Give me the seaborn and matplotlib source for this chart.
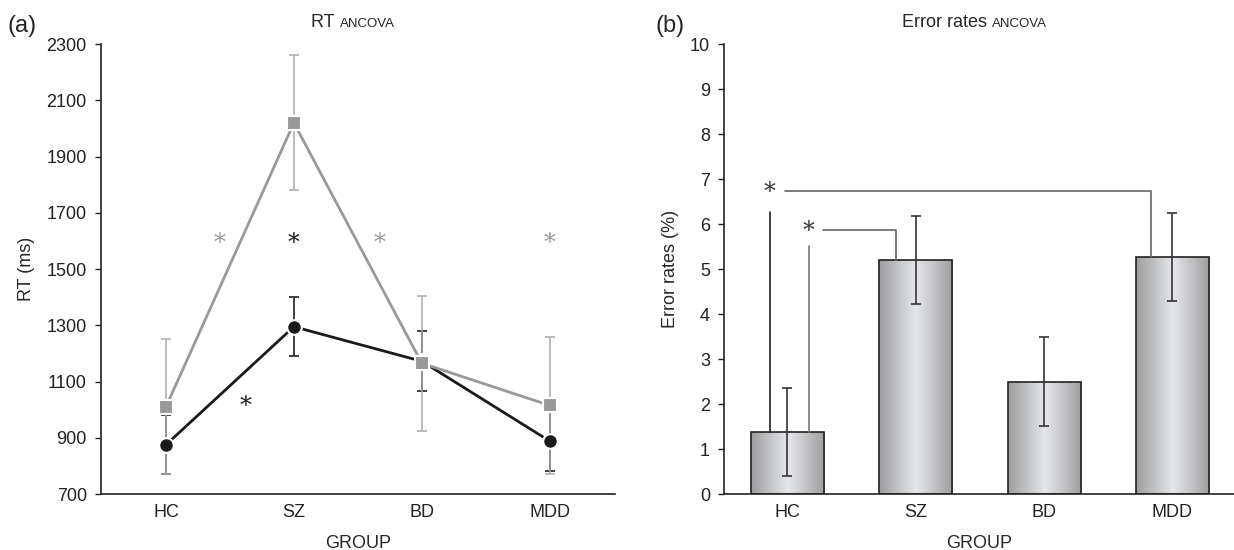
import numpy as np
import matplotlib
matplotlib.use("Agg")
import matplotlib.pyplot as plt
import seaborn as sns

# Werte
groups = ["HC", "SZ", "BD", "MDD"]
rt_gray = [1010, 2020, 1165, 1015]
rt_gray_err = [240, 240, 240, 243]
rt_black = [875, 1295, 1172, 888]
rt_black_err = [105, 105, 106, 105]
rt_ticks = [700, 900, 1100, 1300, 1500, 1700, 1900, 2100, 2300]

err_rates = [1.38, 5.2, 2.5, 5.27]
err_rates_sem = [0.98, 0.98, 0.98, 0.98]
err_ticks = list(range(0, 11))

sns.set_theme(style="ticks")
plt.rcParams['font.family'] = ['Liberation Sans', 'DejaVu Sans']

fig = plt.figure(figsize=(12.34, 5.5), dpi=100)

GRAY = "#999999"
DARK = "#1a1a1a"
FS = 13

# ---------- (a) RT ANCOVA ----------
ax1 = fig.add_axes([0.0816, 0.1018, 0.4168, 0.818])
sns.pointplot(x=groups, y=rt_black, color=DARK, markers="o", errorbar=None,
              ax=ax1, linewidth=2.0, markersize=10.5)
sns.pointplot(x=groups, y=rt_gray, color=GRAY, markers="s", errorbar=None,
              ax=ax1, linewidth=2.0, markersize=10)
for ln in ax1.lines:
    ln.set_markeredgecolor("white")
    ln.set_markeredgewidth(1.5)
    ln.set_zorder(3)

ax1.errorbar(range(len(groups)), rt_black, yerr=rt_black_err, fmt="none",
             ecolor="#333333", elinewidth=1.3, capsize=3.5, capthick=1.3, zorder=2)
ax1.errorbar(range(len(groups)), rt_gray, yerr=rt_gray_err, fmt="none",
             ecolor="#aaaaaa", elinewidth=1.1, capsize=3.5, capthick=1.1, zorder=2)

# Signifikanzsterne
for x, y, c in [(0.42, 1590, GRAY), (1.0, 1590, DARK), (1.67, 1590, GRAY),
                (3.0, 1590, GRAY), (0.62, 1010, DARK)]:
    ax1.text(x, y, "*", ha="center", va="center", fontsize=17, color=c,
             family="DejaVu Serif", zorder=4)

ax1.set_ylim(700, 2300)
ax1.set_xlim(-0.51, 3.51)
ax1.set_yticks(rt_ticks)
ax1.set_xlabel("GROUP", fontsize=FS, labelpad=10)
ax1.set_ylabel("RT (ms)", fontsize=FS, labelpad=8)

# ---------- (b) Error rates ANCOVA ----------
ax2 = fig.add_axes([0.5867, 0.1018, 0.4133, 0.818])
sns.barplot(x=groups, y=err_rates, color="#c4c4c4", width=0.57, errorbar=None,
            edgecolor="#222222", linewidth=1.2, ax=ax2)

# Verlauf in den Balken
t = np.linspace(0, 1, 256)
shade = 1 - np.abs(2 * t - 1)
c_edge = np.array([0.62, 0.62, 0.63])
c_mid = np.array([0.90, 0.905, 0.915])
grad = (c_edge[None, :] + (c_mid - c_edge)[None, :] * shade[:, None])[None, :, :]
for p in list(ax2.patches):
    x0, y0 = p.get_x(), p.get_y()
    w, h = p.get_width(), p.get_height()
    im = ax2.imshow(grad, extent=[x0, x0 + w, y0, y0 + h], aspect="auto",
                    zorder=1.5, interpolation="bilinear")
    im.set_clip_path(p)
    p.set_facecolor("none")
    p.set_zorder(2)

ax2.errorbar(range(len(groups)), err_rates, yerr=err_rates_sem, fmt="none",
             ecolor="#333333", elinewidth=1.2, capsize=3.5, capthick=1.2, zorder=3)

# Signifikanzklammern
ax2.plot([-0.14, -0.14], [err_rates[0], 6.27], color="#222222", lw=1.2, zorder=3)
ax2.plot([-0.02, 2.83, 2.83], [6.73, 6.73, err_rates[3]], color="#666666", lw=1.2, zorder=3)
ax2.text(-0.14, 6.70, "*", ha="center", va="center", fontsize=17,
         family="DejaVu Serif", color="#333333")
ax2.plot([0.165, 0.165], [err_rates[0], 5.52], color="#777777", lw=1.2, zorder=3)
ax2.plot([0.28, 0.843, 0.843], [5.875, 5.875, err_rates[1]], color="#666666", lw=1.2, zorder=3)
ax2.text(0.165, 5.84, "*", ha="center", va="center", fontsize=17,
         family="DejaVu Serif", color="#333333")

ax2.set_ylim(0, 10)
ax2.set_xlim(-0.495, 3.48)
ax2.set_yticks(err_ticks)
ax2.set_xlabel("GROUP", fontsize=FS, labelpad=10)
ax2.set_ylabel("Error rates (%)", fontsize=FS, labelpad=8)

for ax in (ax1, ax2):
    sns.despine(ax=ax)
    ax.tick_params(axis="y", direction="out", length=4, width=1, pad=6,
                   labelsize=FS, colors="#222222")
    ax.tick_params(axis="x", length=0, labelsize=FS, pad=7, colors="#222222")
    for s in ("left", "bottom"):
        ax.spines[s].set_color("#222222")
        ax.spines[s].set_linewidth(1.2)

# Titel mit Kapitälchen, über der Achse zentriert (gemeinsame Grundlinie)
TITLE_Y = 0.951
fig.canvas.draw()
renderer = fig.canvas.get_renderer()
for ax, main in [(ax1, "RT "), (ax2, "Error rates ")]:
    bb = ax.get_position()
    xc = (bb.x0 + bb.x1) / 2
    tt = fig.text(xc, TITLE_Y, main, fontsize=FS, va="baseline")
    sc = fig.text(xc, TITLE_Y, "ANCOVA", fontsize=9.5, va="baseline")
    w1 = tt.get_window_extent(renderer).width / fig.bbox.width
    w2 = sc.get_window_extent(renderer).width / fig.bbox.width
    left = xc - (w1 + w2) / 2 - 0.004
    tt.set_x(left)
    sc.set_x(left + w1)

fig.text(0.006, 0.942, "(a)", fontsize=17, va="baseline")
fig.text(0.531, 0.942, "(b)", fontsize=17, va="baseline")

fig.savefig("out.png", dpi=100)
